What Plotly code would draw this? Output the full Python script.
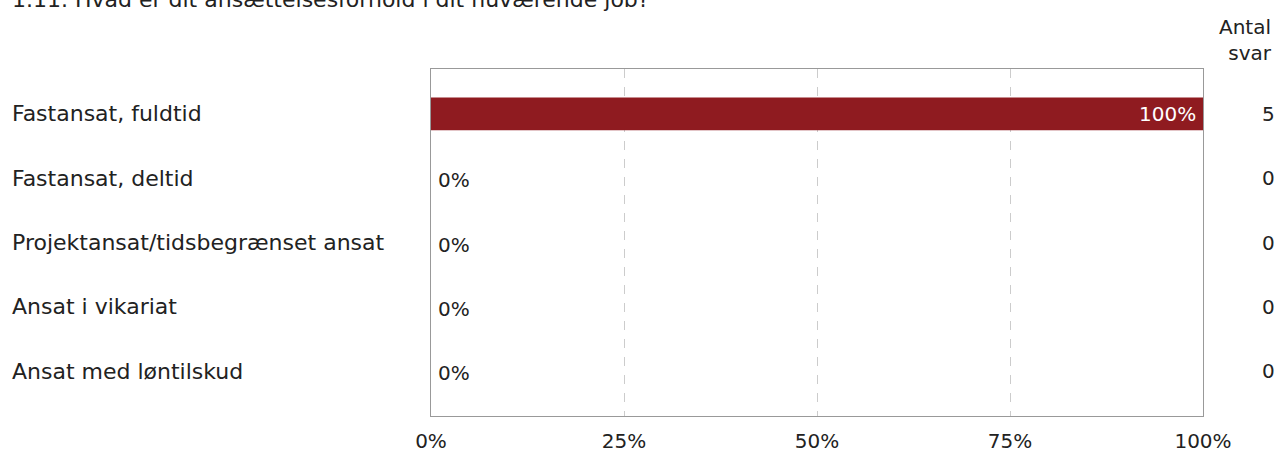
import plotly.graph_objects as go

categories = ["Fastansat, fuldtid", "Fastansat, deltid", "Projektansat/tidsbegrænset ansat",
              "Ansat i vikariat", "Ansat med løntilskud"]
percent = [100, 0, 0, 0, 0]
counts = [5, 0, 0, 0, 0]
tick_vals = [0, 25, 50, 75, 100]
tick_text = ["0%", "25%", "50%", "75%", "100%"]
title = "1.11. Hvad er dit ansættelsesforhold i dit nuværende job?"
count_header = "Antal<br>svar"

W, H = 1278, 451
L, R, T, B = 431, 75, 69, 35
pw, ph = W - L - R, H - T - B
FONT = "DejaVu Sans, Verdana, sans-serif"
TXT = "#222222"

def px_x(p):
    return (p - L) / pw

def px_y(p):
    return 1 - (p - T) / ph

fig = go.Figure()
fig.add_trace(go.Bar(
    x=percent, y=categories, orientation="h",
    marker=dict(color="#8F1B20", line=dict(width=0)),
    width=0.51, hoverinfo="skip",
))

# value labels: inside (white) for full bar, outside (dark) for empty bars
for c, v in zip(categories, percent):
    inside = v > 50
    fig.add_annotation(x=v, xref="x", y=c, yref="y", text=f"{v}%",
                       xanchor="right" if inside else "left",
                       xshift=-5 if inside else 5, yshift=0 if inside else -2,
                       yanchor="middle", showarrow=False,
                       font=dict(size=20, family=FONT, color="white" if inside else TXT))

for i, c in enumerate(categories):
    fig.add_annotation(x=px_x(10), xref="paper", y=c, yref="y", text=c,
                       xanchor="left", yanchor="middle", showarrow=False,
                       font=dict(size=22, family=FONT, color=TXT))
    fig.add_annotation(x=px_x(1268), xref="paper", y=c, yref="y", text=str(counts[i]),
                       xanchor="center", yanchor="middle", showarrow=False,
                       font=dict(size=20, family=FONT, color=TXT))

fig.add_annotation(x=px_x(1274), xref="paper", y=px_y(67), yref="paper", text=count_header,
                   xanchor="right", yanchor="bottom", align="right", showarrow=False,
                   font=dict(size=20, family=FONT, color=TXT))
fig.add_annotation(x=px_x(10), xref="paper", y=px_y(14), yref="paper", text=title,
                   xanchor="left", yanchor="bottom", showarrow=False,
                   font=dict(size=22, family=FONT, color=TXT))

fig.update_layout(
    width=W, height=H, margin=dict(l=L, r=R, t=T, b=B, autoexpand=False),
    plot_bgcolor="white", paper_bgcolor="white", showlegend=False,
)
fig.update_xaxes(range=[0, 100], tickvals=tick_vals, ticktext=tick_text,
                 showgrid=True, gridcolor="#cccccc", griddash="dash", gridwidth=1,
                 showline=True, linecolor="#999999", linewidth=1, mirror=True,
                 zeroline=False, ticks="outside", ticklen=7, tickcolor="rgba(0,0,0,0)",
                 tickfont=dict(size=20, family=FONT, color=TXT), fixedrange=True)
fig.update_yaxes(range=[4.7, -0.7], showticklabels=False, showgrid=False,
                 showline=True, linecolor="#999999", linewidth=1, mirror=True,
                 zeroline=False, fixedrange=True)

fig.write_html("out.html", config={"displayModeBar": False},
               post_script="document.body.style.margin='0';")
